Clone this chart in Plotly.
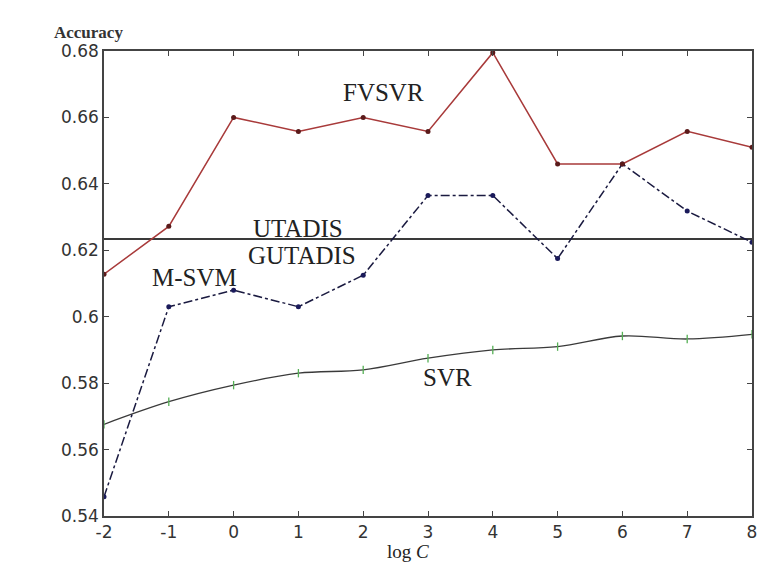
import plotly.graph_objects as go

log_c = [-2, -1, 0, 1, 2, 3, 4, 5, 6, 7, 8]
fvsvr = [0.6128, 0.6272, 0.6600, 0.6558, 0.6600, 0.6558, 0.6795, 0.6460, 0.6460, 0.6558, 0.6510]
msvm = [0.5458, 0.6030, 0.6080, 0.6030, 0.6125, 0.6365, 0.6365, 0.6175, 0.6460, 0.6318, 0.6224]
svr = [0.5676, 0.5744, 0.5794, 0.5830, 0.5840, 0.5875, 0.5900, 0.5910, 0.5942, 0.5933, 0.5947]
utadis = 0.6234
x_ticks = [-2, -1, 0, 1, 2, 3, 4, 5, 6, 7, 8]
y_ticks = [0.54, 0.56, 0.58, 0.6, 0.62, 0.64, 0.66, 0.68]
y_tick_text = ["0.54", "0.56", "0.58", "0.6", "0.62", "0.64", "0.66", "0.68"]

fig = go.Figure()

fig.add_trace(go.Scatter(
    x=[log_c[0], log_c[-1]], y=[utadis, utadis], mode="lines",
    line=dict(color="#3a3a3a", width=2), showlegend=False, hoverinfo="skip"))

fig.add_trace(go.Scatter(
    x=log_c, y=svr, mode="lines+markers", line_shape="spline",
    line=dict(color="#3a3a3a", width=1.3),
    marker=dict(symbol="line-ns", size=6, color="#55b055", line=dict(color="#55b055", width=1.3)),
    showlegend=False))

fig.add_trace(go.Scatter(
    x=log_c, y=msvm, mode="lines+markers",
    line=dict(color="#1a1a40", width=1.5, dash="dashdot"),
    marker=dict(symbol="circle", size=5, color="#1a1a5a"),
    showlegend=False))

fig.add_trace(go.Scatter(
    x=log_c, y=fvsvr, mode="lines+markers",
    line=dict(color="#a83a3a", width=1.5),
    marker=dict(symbol="circle", size=5, color="#5a1a1a"),
    showlegend=False))

serif = "Liberation Serif"
lab = dict(showarrow=False, font=dict(family=serif, size=25, color="#222"))
fig.add_annotation(x=2.32, y=0.6676, text="FVSVR", **lab)
fig.add_annotation(x=0.99, y=0.6267, text="UTADIS", **lab)
fig.add_annotation(x=1.05, y=0.6185, text="GUTADIS", **lab)
fig.add_annotation(x=-0.61, y=0.6119, text="M-SVM", **lab)
fig.add_annotation(x=3.30, y=0.5818, text="SVR", **lab)

fig.add_annotation(xref="paper", yref="paper", x=-0.0796, y=1.064, text="<b>Accuracy</b>",
                   showarrow=False, font=dict(family=serif, size=17, color="#333"))
fig.add_annotation(xref="paper", yref="paper", x=0.4686, y=-0.104, text="log <i>C</i>",
                   showarrow=False, font=dict(family=serif, size=19, color="#222"))

axis_common = dict(showline=True, linecolor="#444", linewidth=1.5, mirror="ticks",
                   ticks="inside", ticklen=5, tickcolor="#444", tickwidth=1.2,
                   showgrid=False, zeroline=False,
                   tickfont=dict(family="DejaVu Sans", size=17, color="#333"))

fig.update_xaxes(range=[-2, 8], tickvals=x_ticks, ticktext=[str(v) for v in x_ticks], **axis_common)
fig.update_yaxes(range=[0.54, 0.68], tickvals=y_ticks, ticktext=y_tick_text, **axis_common)

fig.update_layout(width=763, height=573, plot_bgcolor="white", paper_bgcolor="white",
                  margin=dict(l=104, r=6, t=51, b=57))

fig.write_html("out.html", config={"displayModeBar": False},
               post_script="document.body.style.margin='0px';document.body.style.overflow='hidden';")
